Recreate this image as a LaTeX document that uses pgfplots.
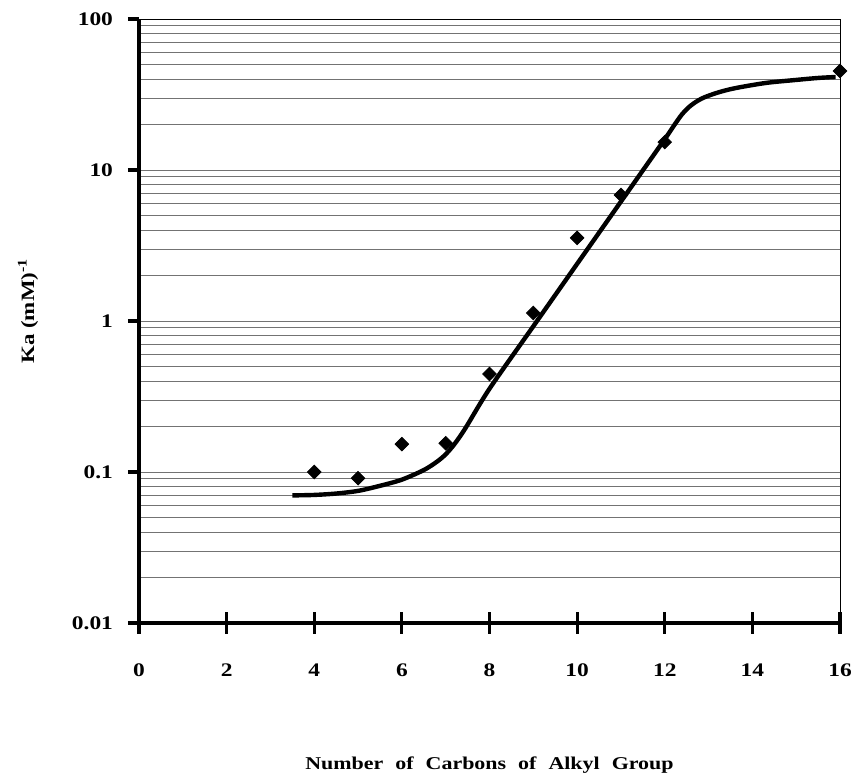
\documentclass[border=0pt]{standalone}
\usepackage{fontspec}
\setmainfont{Liberation Serif}[FakeStretch=1.22]
\usepackage{pgfplots}
\pgfplotsset{compat=1.18}

\begin{document}
\begin{tikzpicture}
\begin{axis}[
    scale only axis,
    width=350.5bp, height=302bp,
    xmin=0, xmax=16,
    ymode=log, ymin=0.01, ymax=100,
    xtick={0,2,4,6,8,10,12,14,16},
    xticklabels={0,2,4,6,8,10,12,14,16},
    extra x ticks={0,2,4,6,8,10,12,14,16},
    extra x tick labels={},
    extra x tick style={tick align=inside},
    ytick={0.01,0.1,1,10,100},
    yticklabels={0.01,0.1,1,10,100},
    ticklabel style={font=\fontsize{9.6bp}{11bp}\selectfont\bfseries},
    tick pos=left,
    tick align=outside,
    major tick length=5.5bp,
    minor tick length=0pt,
    tick style={black, line width=1.6bp},
    xticklabel shift=11.5bp,
    yticklabel shift=4bp,
    ymajorgrids, yminorgrids,
    major grid style={black!55, line width=0.45bp},
    minor grid style={black!55, line width=0.45bp},
    axis line style={line width=0.5bp},
    clip=false,
    xlabel={\spaceskip=6bp\relax Number of Carbons of Alkyl Group},
    xlabel style={at={(axis description cs:0.5,0)}, anchor=center, yshift=-71bp,
        font=\fontsize{9bp}{10bp}\selectfont\bfseries},
    ylabel={Ka (mM)\textsuperscript{-1}},
    ylabel style={at={(axis description cs:0,0.5)}, anchor=center, yshift=55.5bp, xshift=5bp,
        font=\fontsize{9.4bp}{11bp}\selectfont\bfseries},
]
\coordinate (sw) at (rel axis cs:0,0);
\coordinate (ne) at (rel axis cs:1,1);
\draw[line width=1.9bp] (rel axis cs:0,0) -- (rel axis cs:0,1);
\draw[line width=1.9bp] (rel axis cs:0,0) -- (rel axis cs:1,0);

% fitted curve
\addplot[black, line width=2.2bp, smooth, tension=0.5, mark=none] coordinates {
    (3.5,0.070) (4,0.0705) (4.5,0.072) (5,0.075) (5.5,0.081) (6,0.089)
    (6.5,0.103) (6.8,0.117) (7.0,0.131) (7.2,0.153) (7.45,0.195)
    (8,0.356) (9,0.923) (10,2.39) (11,6.18) (12,16.0) (12.2,19.5)
    (12.4,23.5) (12.6,26.8) (12.85,29.8) (13.2,32.5) (13.6,34.8) (14.3,37.7)
    (15,39.5) (15.5,40.7) (15.9,41.3)
};

% measured
\addplot[only marks, mark=square*, mark size=2.4bp,
    mark options={rotate=45, fill=black, draw=black}] coordinates {
    (4,0.100) (5,0.091) (6,0.153) (7,0.155) (8,0.446) (9,1.13)
    (10,3.55) (11,6.83) (12,15.3) (16,45.3)
};
\end{axis}
\pgfresetboundingbox
\path[use as bounding box] ([xshift=-69.5bp,yshift=-77.5bp]sw) rectangle ([xshift=6.5bp,yshift=9.5bp]ne);
\end{tikzpicture}
\end{document}
